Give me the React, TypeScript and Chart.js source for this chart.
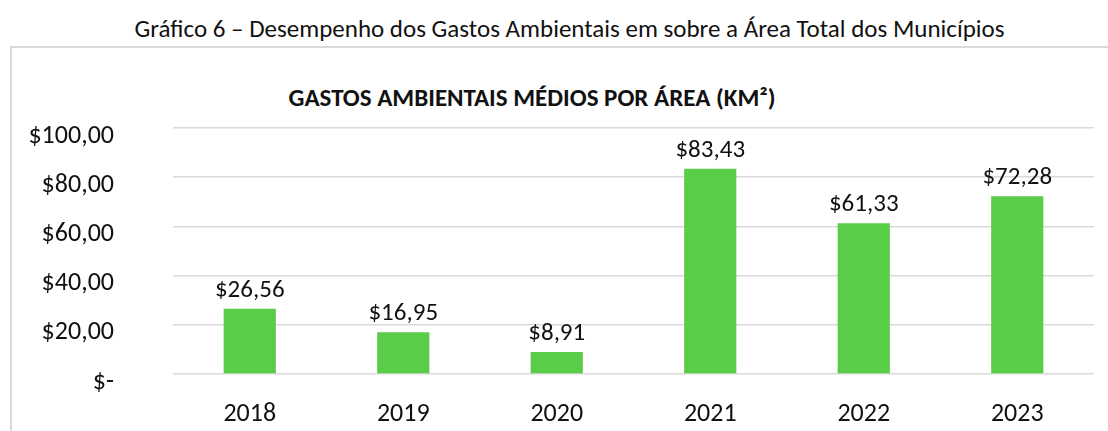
import React, { useEffect, useRef } from "react";
import { Chart, registerables } from "chart.js";

Chart.register(...registerables);

const pageTitle = "Gráfico 6 – Desempenho dos Gastos Ambientais em sobre a Área Total dos Municípios";
const chartTitle = "GASTOS AMBIENTAIS MÉDIOS POR ÁREA (KM²)";
const years = ["2018", "2019", "2020", "2021", "2022", "2023"];
const gastos = [26.56, 16.95, 8.91, 83.43, 61.33, 72.28];
const yTicks = [0, 20, 40, 60, 80, 100];

const FONT = "Carlito, Calibri, Lato, 'Open Sans', sans-serif";

const fmt = (v: number) => (v === 0 ? "$-" : "$" + v.toFixed(2).replace(".", ","));

const labelPlugin = {
  id: "barLabels",
  afterDatasetsDraw(chart: any) {
    const ctx = chart.ctx;
    const meta = chart.getDatasetMeta(0);
    ctx.save();
    ctx.font = `25px ${FONT}`;
    ctx.fillStyle = "#111";
    ctx.textAlign = "center";
    ctx.textBaseline = "alphabetic";
    meta.data.forEach((bar: any, i: number) => {
      ctx.fillText(fmt(gastos[i]), bar.x, bar.y - 12);
    });
    ctx.restore();
  },
};

export default function App() {
  const ref = useRef<HTMLCanvasElement>(null);
  useEffect(() => {
    if (!ref.current) return;
    const chart = new Chart(ref.current, {
      type: "bar",
      data: {
        labels: years,
        datasets: [
          {
            data: gastos,
            backgroundColor: "#5ACD48",
            barPercentage: 0.34,
            categoryPercentage: 1,
          },
        ],
      },
      options: {
        responsive: false,
        animation: false,
        devicePixelRatio: 1,
        layout: { padding: { left: 0, right: 14, top: 80, bottom: 0 } },
        plugins: { legend: { display: false }, tooltip: { enabled: false }, title: { display: false } },
        scales: {
          x: {
            grid: { display: false },
            border: { display: false },
            ticks: { font: { family: FONT, size: 26 }, color: "#111", padding: 17 },
            afterFit: (s: any) => {
              s.height = 57;
              s.paddingLeft = 0;
              s.paddingRight = 0;
            },
          },
          y: {
            min: 0,
            max: 100,
            afterBuildTicks: (s: any) => {
              s.ticks = yTicks.map((v) => ({ value: v }));
            },
            grid: { color: "#d9d9d9", lineWidth: 1.5, drawTicks: false },
            border: { display: false },
            ticks: {
              font: { family: FONT, size: 26 },
              color: "#111",
              padding: 59,
              labelOffset: 8,
              callback: (v: any) => fmt(Number(v)),
            },
            afterFit: (s: any) => {
              s.width = 161;
              s.paddingTop = 0;
              s.paddingBottom = 0;
            },
          },
        },
      },
      plugins: [labelPlugin],
    });
    return () => chart.destroy();
  }, []);

  return (
    <div
      style={{
        position: "fixed",
        left: 0,
        top: 0,
        width: 1108,
        height: 431,
        overflow: "hidden",
        background: "#fff",
        fontFamily: FONT,
      }}
    >
      <div
        style={{
          position: "absolute",
          left: 0,
          width: 1139,
          top: 14,
          textAlign: "center",
          fontSize: 25,
          lineHeight: "30px",
          color: "#111",
          whiteSpace: "nowrap",
        }}
      >
        {pageTitle}
      </div>
      <div
        style={{
          position: "absolute",
          left: 10,
          top: 46,
          width: 1120,
          height: 420,
          border: "2px solid #d9d9d9",
          boxSizing: "border-box",
        }}
      />
      <div
        style={{
          position: "absolute",
          left: 0,
          width: 1064,
          top: 83,
          textAlign: "center",
          fontSize: 25,
          fontWeight: "bold",
          lineHeight: "30px",
          color: "#111",
          whiteSpace: "nowrap",
        }}
      >
        {chartTitle}
      </div>
      <canvas
        ref={ref}
        width={1096}
        height={383}
        style={{ position: "absolute", left: 12, top: 48, width: 1096, height: 383 }}
      />
    </div>
  );
}
